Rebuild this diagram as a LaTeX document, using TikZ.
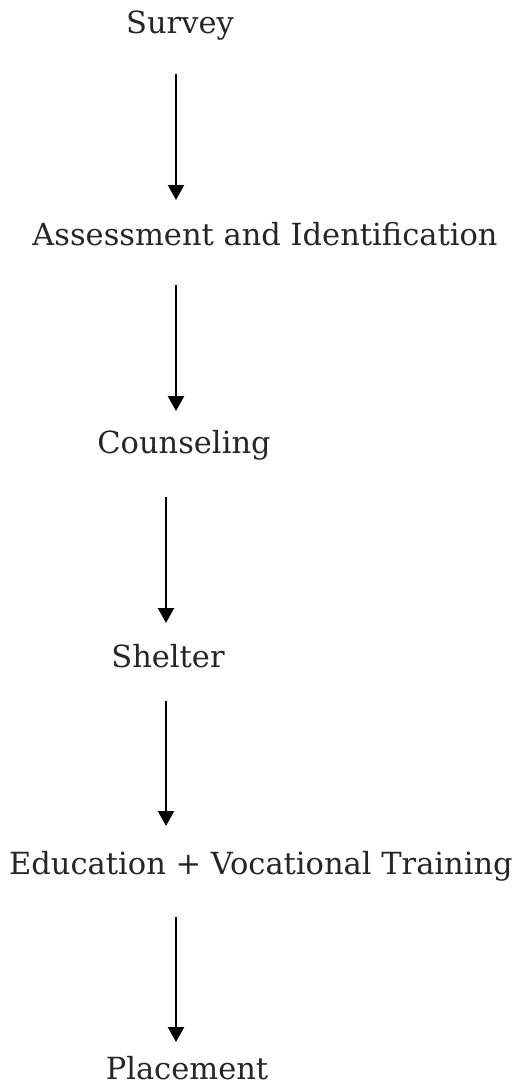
\documentclass[tikz,border=0pt]{standalone}
\usepackage{fontspec}
\setmainfont{DejaVu Serif}
\usetikzlibrary{arrows.meta}
\begin{document}
\begin{tikzpicture}[x=1pt,y=-1pt,
  lbl/.style={anchor=base,inner sep=0pt,text=black!85,font=\fontsize{30.5}{36}\selectfont},
  arr/.style={line width=2.2pt,-{Triangle[length=15pt,width=16pt]}}]
\useasboundingbox (0,0) rectangle (523,1085);
\node[lbl] (survey) at (180,33) {Survey};
\node[lbl] (assess) at (265,245) {Assessment and Identification};
\node[lbl] (couns) at (184,453) {Counseling};
\node[lbl] (shelter) at (168,667) {Shelter};
\node[lbl] (educ) at (261,874) {Education + Vocational Training};
\node[lbl] (place) at (187,1079) {Placement};
\coordinate (a1) at (176,74); \coordinate (b1) at (176,200);
\coordinate (a2) at (176,285); \coordinate (b2) at (176,411);
\coordinate (a3) at (166,497); \coordinate (b3) at (166,623);
\coordinate (a4) at (166,701); \coordinate (b4) at (166,826);
\coordinate (a5) at (176,917); \coordinate (b5) at (176,1042);
\draw[arr] (a1) -- (b1);
\draw[arr] (a2) -- (b2);
\draw[arr] (a3) -- (b3);
\draw[arr] (a4) -- (b4);
\draw[arr] (a5) -- (b5);
\end{tikzpicture}
\end{document}
